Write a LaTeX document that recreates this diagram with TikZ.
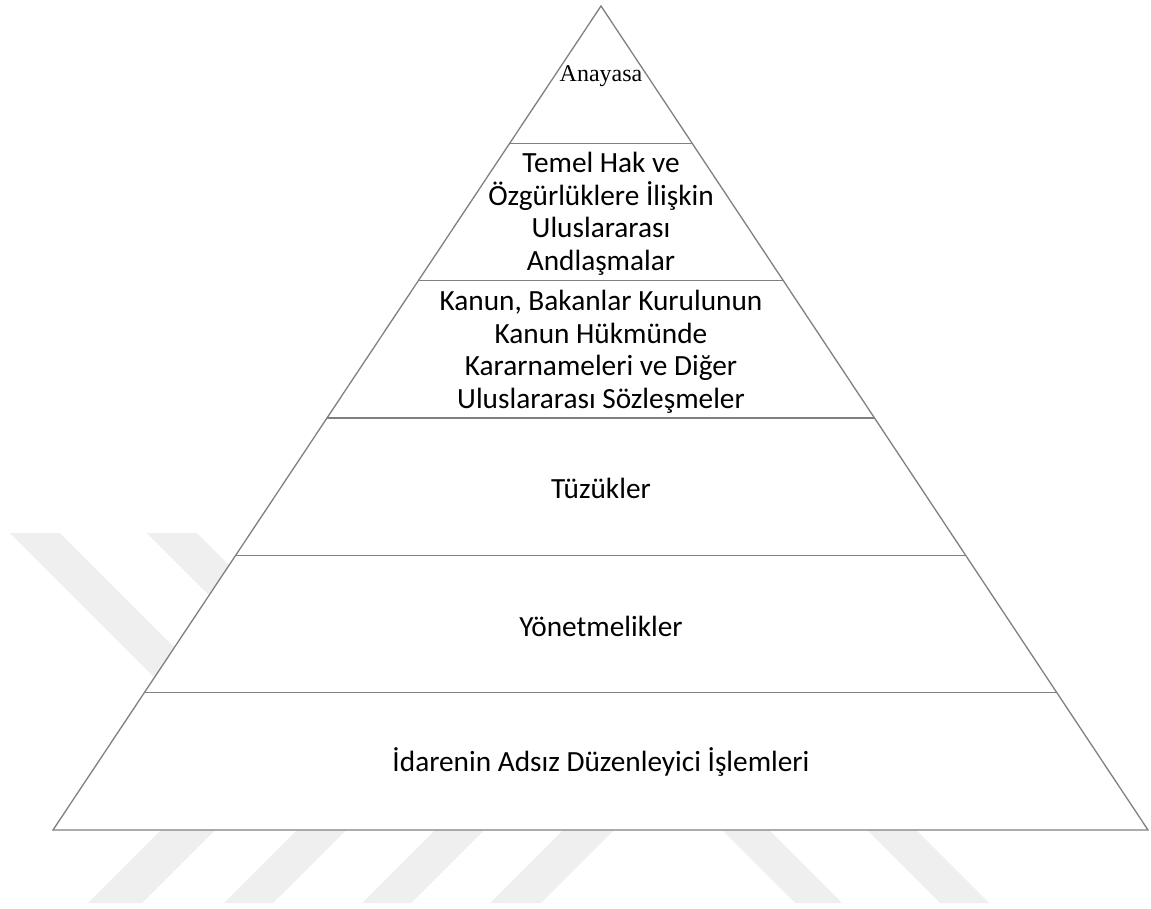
\documentclass[tikz,border=0pt]{standalone}
\usepackage{fontspec}
\setmainfont{Carlito}
\newfontfamily\tnrfont{Liberation Serif}
\usetikzlibrary{calc}
\definecolor{edgegray}{RGB}{128,128,128}
\definecolor{wmgray}{RGB}{239,239,239}
\tikzset{
  pyr/.style={draw=edgegray, line width=1.3pt},
  wm/.style={fill=wmgray, draw=none},
  lvl/.style={align=center, font=\fontsize{29.3}{32.5}\selectfont, inner sep=0pt},
}
\begin{document}
\begin{tikzpicture}[x=1pt,y=-1pt]
\useasboundingbox (0,0) rectangle (1151,909);
\fill[white] (0,0) rectangle (1151,909);
% watermark bands
\fill[wm] (10,533) -- (60,533) -- (260,733) -- (210,733) -- cycle;
\fill[wm] (147,533) -- (197,533) -- (397,733) -- (347,733) -- cycle;
\fill[wm] (88,903) -- (142,903) -- (245,800) -- (191,800) -- cycle;
\fill[wm] (224,903) -- (273,903) -- (376,800) -- (327,800) -- cycle;
\fill[wm] (362,903) -- (411,903) -- (514,800) -- (465,800) -- cycle;
\fill[wm] (490,903) -- (541,903) -- (644,800) -- (593,800) -- cycle;
\fill[wm] (795,903) -- (842,903) -- (739,800) -- (692,800) -- cycle;
\fill[wm] (940,903) -- (989,903) -- (886,800) -- (837,800) -- cycle;
% pyramid
\coordinate (T) at (601,6);
\coordinate (L) at (53,830);
\coordinate (R) at (1148,830);
\filldraw[pyr, fill=white] (T) -- (L) -- (R) -- cycle;
\foreach \t in {0.16667,0.33333,0.5,0.66667,0.83333}
  \draw[pyr] ($(T)!\t!(L)$) -- ($(T)!\t!(R)$);
% labels
\node[inner sep=0pt, font=\tnrfont\fontsize{24}{28}\selectfont] (anayasa) at (601,76) {Anayasa};
\node[lvl] (temel) at (601,214) {Temel Hak ve\\Özgürlüklere İlişkin\\Uluslararası\\Andlaşmalar};
\node[lvl] (kanun) at (601,352) {Kanun, Bakanlar Kurulunun\\Kanun Hükmünde\\Kararnameleri ve Diğer\\Uluslararası Sözleşmeler};
\node[lvl] (tuzuk) at (601,488) {Tüzükler};
\node[lvl] (yonet) at (601,626) {Yönetmelikler};
\node[lvl] (idare) at (601,762) {İdarenin Adsız Düzenleyici İşlemleri};
\end{tikzpicture}
\end{document}
